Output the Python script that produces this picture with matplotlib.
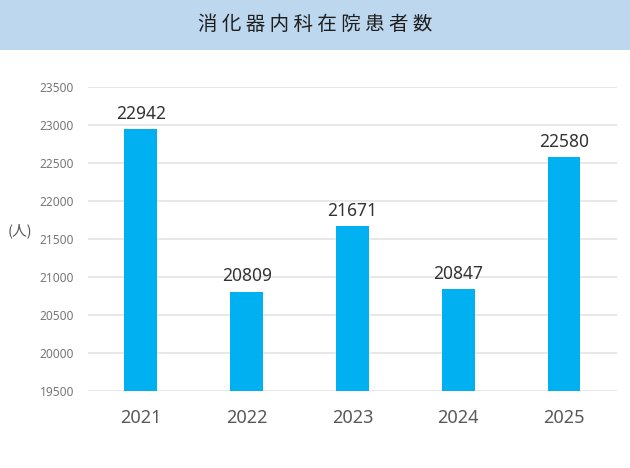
import matplotlib
matplotlib.use("Agg")
import matplotlib.pyplot as plt
from matplotlib.patches import Rectangle

years = ["2021", "2022", "2023", "2024", "2025"]
patients = [22942, 20809, 21671, 20847, 22580]
yticks = [19500, 20000, 20500, 21000, 21500, 22000, 22500, 23000, 23500]
title = "消化器内科在院患者数"
unit_label = "(人)"

BAR = "#00B0F0"
BANNER = "#BDD7EE"
GRID = "#E4E4E4"

fig = plt.figure(figsize=(6.3, 4.68), dpi=100)

# title banner
fig.patches.append(Rectangle((0, 0.893), 1, 0.107, transform=fig.transFigure,
                             facecolor=BANNER, edgecolor="none", zorder=0))
fig.text(0.5, 0.948, " ".join(title), ha="center", va="center", fontsize=14,
         color="#1e1e1e", family=["Noto Sans CJK JP", "DejaVu Sans"])

ax = fig.add_axes([0.1397, 0.1645, 0.8393, 0.6495])
x = list(range(len(years)))
ax.bar(x, patients, width=0.31, color=BAR, zorder=3)
for xi, v in zip(x, patients):
    ax.text(xi, v + 80, str(v), ha="center", va="bottom", fontsize=12.5,
            color="#333333", family="Noto Sans")

ax.set_xlim(-0.5, 4.5)
ax.set_ylim(19500, 23500)
ax.set_yticks(yticks)
ax.set_yticklabels([str(t) for t in yticks], fontsize=8.6, color="#777777", family="Noto Sans")
ax.set_xticks(x)
ax.set_xticklabels(years, fontsize=13, color="#595959", family="Noto Sans")
ax.tick_params(axis="both", length=0)
ax.tick_params(axis="y", pad=10)
ax.tick_params(axis="x", pad=13)
for s in ax.spines.values():
    s.set_visible(False)
ax.grid(axis="y", color=GRID, linewidth=1.2, zorder=0)
ax.set_axisbelow(True)

fig.text(0.031, 1 - 231 / 468, unit_label, ha="center", va="center", fontsize=10.5,
         color="#555555", family=["Noto Sans CJK JP", "DejaVu Sans"])

fig.savefig("out.png", dpi=100)
